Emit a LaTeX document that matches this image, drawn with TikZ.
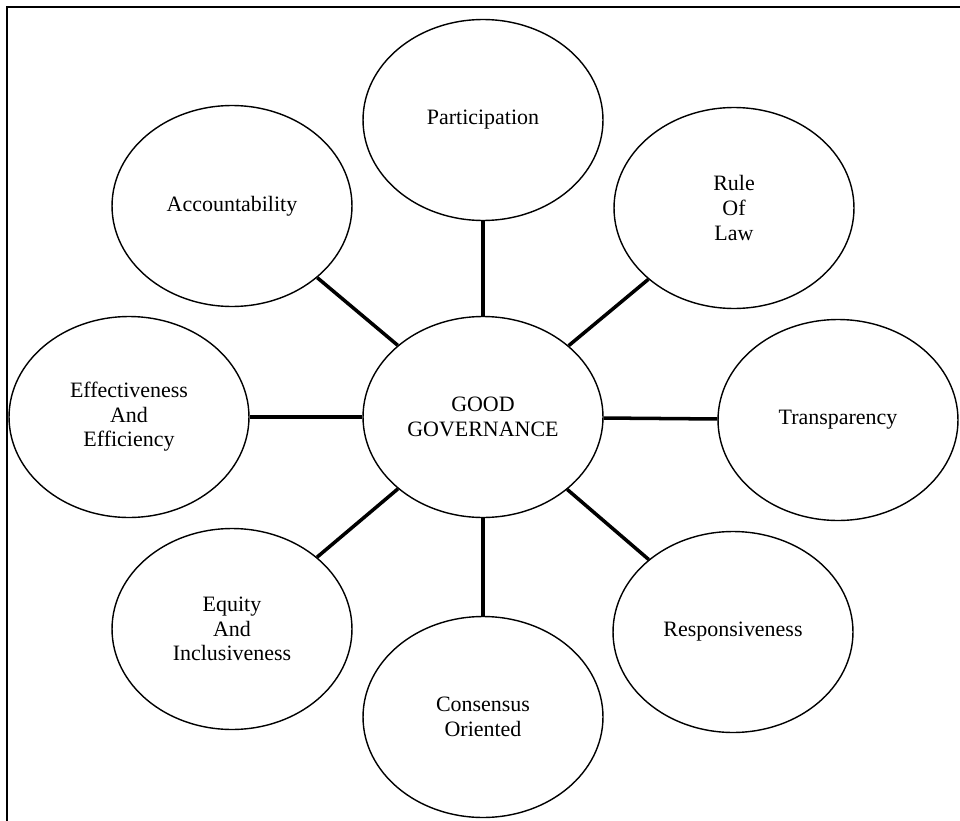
\documentclass[tikz,border=0pt]{standalone}
\usepackage{fontspec}
\setmainfont{Liberation Serif}
\usetikzlibrary{shapes.geometric}

\begin{document}
\begin{tikzpicture}[x=0.02cm, y=-0.02cm,
    pillar/.style={ellipse, draw, line width=0.8pt, minimum width=4.8cm,
        minimum height=4.02cm, align=center, inner sep=0pt,
        font=\fontsize{12.5}{14}\selectfont},
    link/.style={line width=2pt}]
    \useasboundingbox (0,0) rectangle (960,821);

    % frame (top and left edges only)
    \draw[line width=1.6pt] (7,821) -- (7,7) -- (960,7);

    % centre
    \node[pillar] (gg) at (483,417) {GOOD\\GOVERNANCE};

    % the eight characteristics
    \node[pillar] (part)   at (483,120) {Participation};
    \node[pillar] (rule)   at (734,208) {Rule\\Of\\Law};
    \node[pillar] (trans)  at (838,420) {Transparency};
    \node[pillar] (resp)   at (733,632) {Responsiveness};
    \node[pillar] (cons)   at (483,717) {Consensus\\Oriented};
    \node[pillar] (equity) at (232,629) {Equity\\And\\Inclusiveness};
    \node[pillar] (effect) at (129,417) {Effectiveness\\And\\Efficiency};
    \node[pillar] (acc)    at (232,206) {Accountability};

    % spokes
    \foreach \n in {part,rule,trans,resp,cons,equity,effect,acc}
        \draw[link] (gg) -- (\n);
\end{tikzpicture}
\end{document}
